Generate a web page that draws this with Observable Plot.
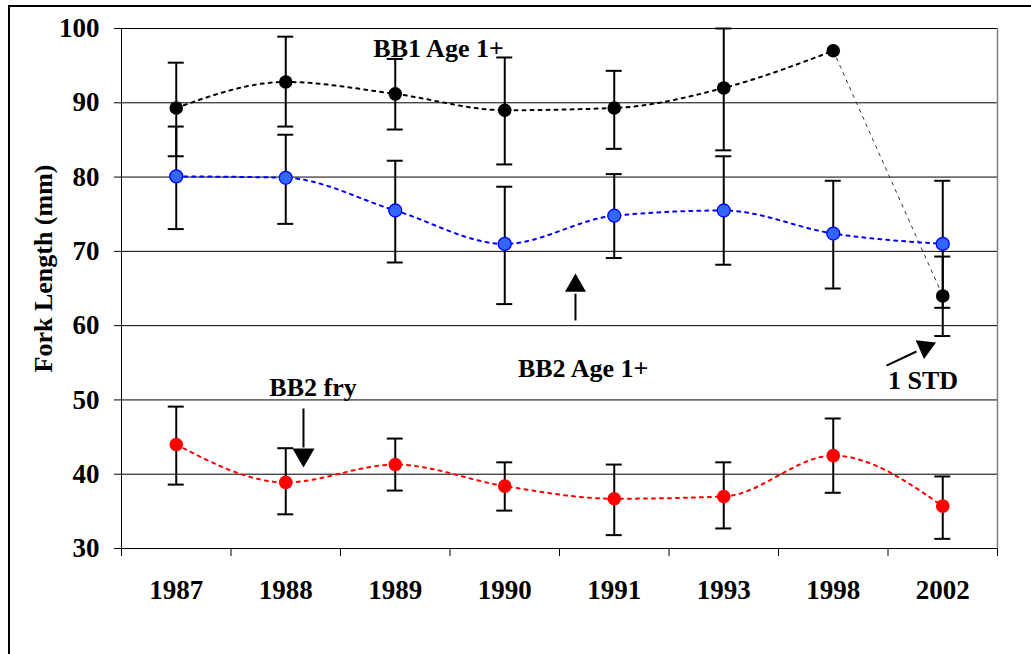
<!DOCTYPE html>
<html><head><meta charset="utf-8">
<script src="https://cdn.jsdelivr.net/npm/d3@7"></script>
<script src="https://cdn.jsdelivr.net/npm/@observablehq/plot@0.6"></script>
<style>
html,body{margin:0;padding:0;background:#fff;}
#wrap{position:relative;width:1031px;height:654px;overflow:hidden;}
#frame{position:absolute;left:8px;top:5px;right:-10px;bottom:-10px;border-top:2px solid #000;border-left:2px solid #000;pointer-events:none;}
</style></head><body>
<div id="wrap"><div id="chart"></div><div id="frame"></div></div>
<script>
// Categories
const years = ["1987", "1988", "1989", "1990", "1991", "1993", "1998", "2002"];
// BB1 Age 1+ (black)
const bb1Mean = [89.3, 92.8, 91.2, 89.0, 89.3, 92.0, 97.0, 64.0];
const bb1Hi   = [95.4, 98.9, 95.9, 96.1, 94.3, 100.0, null, 69.3];
const bb1Lo   = [82.8, 86.8, 86.4, 81.7, 83.8, 83.6, null, 58.6];
// BB2 Age 1+ (blue)
const bb2Mean = [80.1, 79.9, 75.5, 71.0, 74.8, 75.5, 72.4, 71.0];
const bb2Hi   = [86.8, 85.7, 82.2, 78.7, 80.4, 82.8, 79.5, 79.5];
const bb2Lo   = [73.0, 73.7, 68.5, 62.9, 69.1, 68.2, 65.0, 62.4];
// BB2 fry (red)
const fryMean = [44.0, 38.9, 41.3, 38.4, 36.7, 37.0, 42.5, 35.7];
const fryHi   = [49.1, 43.5, 44.8, 41.6, 41.3, 41.6, 47.5, 39.7];
const fryLo   = [38.6, 34.6, 37.8, 35.1, 31.8, 32.7, 37.5, 31.3];
// Axis ticks
const yTicks = [30, 40, 50, 60, 70, 80, 90, 100];
const gridValues = [40, 50, 60, 70, 80, 90, 100];
// Annotations (data coordinates: x = category index, y = mm)
const notes = [
  {x: 1.80, y: 96.2, text: "BB1 Age 1+"},
  {x: 3.12, y: 53.1, text: "BB2 Age 1+"},
  {x: 0.85, y: 50.5, text: "BB2 fry"},
  {x: 6.50, y: 51.5, text: "1 STD"}
];
const shafts = [
  {x1: 3.646, y1: 60.7, x2: 3.646, y2: 64.3},
  {x1: 1.162, y1: 48.85, x2: 1.162, y2: 43.6},
  {x1: 6.486, y1: 54.63, x2: 6.760, y2: 56.52}
];
const headUp = [{x: 3.646, y: 65.39}];
const headDown = [{x: 1.162, y: 42.61}];
const headDiag = [{x: 6.840, y: 57.1}];

const idx = years.map((_, i) => i);
const bounds = [-0.5, 0.5, 1.5, 2.5, 3.5, 4.5, 5.5, 6.5, 7.5];
function series(mean, hi, lo) {
  return years.map((y, i) => ({i, year: y, mean: mean[i], hi: hi[i], lo: lo[i]}));
}
const bb1 = series(bb1Mean, bb1Hi, bb1Lo);
const bb2 = series(bb2Mean, bb2Hi, bb2Lo);
const fry = series(fryMean, fryHi, fryLo);
const bars = [...bb1, ...bb2, ...fry].filter(d => d.hi != null);
const capHalf = 0.073;
const font = "'Liberation Serif','Times New Roman',serif";
const dash = "3,5";

const chart = Plot.plot({
  width: 1031, height: 654,
  marginLeft: 121, marginRight: 34, marginTop: 28, marginBottom: 106,
  style: {fontFamily: font, color: "#000", background: "#fff", overflow: "visible"},
  x: {type: "linear", domain: [-0.5, 7.5], label: null},
  y: {domain: [30, 100], label: null},
  marks: [
    Plot.ruleY(gridValues, {stroke: "#000", strokeWidth: 1}),
    Plot.ruleX([7.5], {stroke: "#808080", strokeWidth: 1.5}),
    Plot.ruleX([-0.5], {stroke: "#000", strokeWidth: 1}),
    Plot.ruleY([30], {stroke: "#000", strokeWidth: 1}),
    Plot.axisY({ticks: yTicks, tickSize: 7, tickPadding: 15, fontSize: 27, fontWeight: "bold", tickFormat: d => String(d), label: null}),
    Plot.axisX({ticks: bounds, tickSize: 8, tickFormat: () => "", label: null}),
    Plot.axisX({ticks: idx, tickSize: 0, tickPadding: 31, fontSize: 27, fontWeight: "bold", tickFormat: i => years[i], label: null}),
    Plot.text(["Fork Length (mm)"], {text: d => d, frameAnchor: "left", dx: -70, dy: 84, rotate: -90, textAnchor: "start", lineAnchor: "bottom", fontSize: 26, fontWeight: "bold", fill: "#000"}),
    // lines
    Plot.line(bb1.slice(0, 7), {x: "i", y: "mean", curve: "monotone-x", stroke: "#000", strokeWidth: 2, strokeDasharray: dash}),
    Plot.line(bb1.slice(6), {x: "i", y: "mean", curve: "monotone-x", stroke: "#333", strokeWidth: 1, strokeDasharray: dash}),
    Plot.line(bb2, {x: "i", y: "mean", curve: "monotone-x", stroke: "#0000ff", strokeWidth: 2, strokeDasharray: dash}),
    Plot.line(fry, {x: "i", y: "mean", curve: "monotone-x", stroke: "#ff0000", strokeWidth: 2, strokeDasharray: dash}),
    // error bars
    Plot.ruleX(bars, {x: "i", y1: "lo", y2: "hi", stroke: "#000", strokeWidth: 2}),
    Plot.ruleY(bars, {y: "hi", x1: d => d.i - capHalf, x2: d => d.i + capHalf, stroke: "#000", strokeWidth: 2}),
    Plot.ruleY(bars, {y: "lo", x1: d => d.i - capHalf, x2: d => d.i + capHalf, stroke: "#000", strokeWidth: 2}),
    // dots
    Plot.dot(bb1, {x: "i", y: "mean", r: 6.8, fill: "#000"}),
    Plot.dot(bb2, {x: "i", y: "mean", r: 6.5, fill: "#3366ff", stroke: "#0000ff", strokeWidth: 1.3}),
    Plot.dot(fry, {x: "i", y: "mean", r: 6.8, fill: "#ff0000"}),
    // annotations
    Plot.text(notes, {x: "x", y: "y", text: "text", textAnchor: "start", lineAnchor: "bottom", fontSize: 26, fontWeight: "bold", fill: "#000"}),
    Plot.link(shafts, {x1: "x1", y1: "y1", x2: "x2", y2: "y2", stroke: "#000", strokeWidth: 2}),
    Plot.dot(headUp, {x: "x", y: "y", symbol: "triangle", r: 7.8, rotate: 0, fill: "#000"}),
    Plot.dot(headDown, {x: "x", y: "y", symbol: "triangle", r: 8.2, rotate: 180, fill: "#000"}),
    Plot.dot(headDiag, {x: "x", y: "y", symbol: "triangle", r: 7.6, rotate: 66, fill: "#000"})
  ]
});
document.getElementById("chart").appendChild(chart);
</script>
</body></html>
